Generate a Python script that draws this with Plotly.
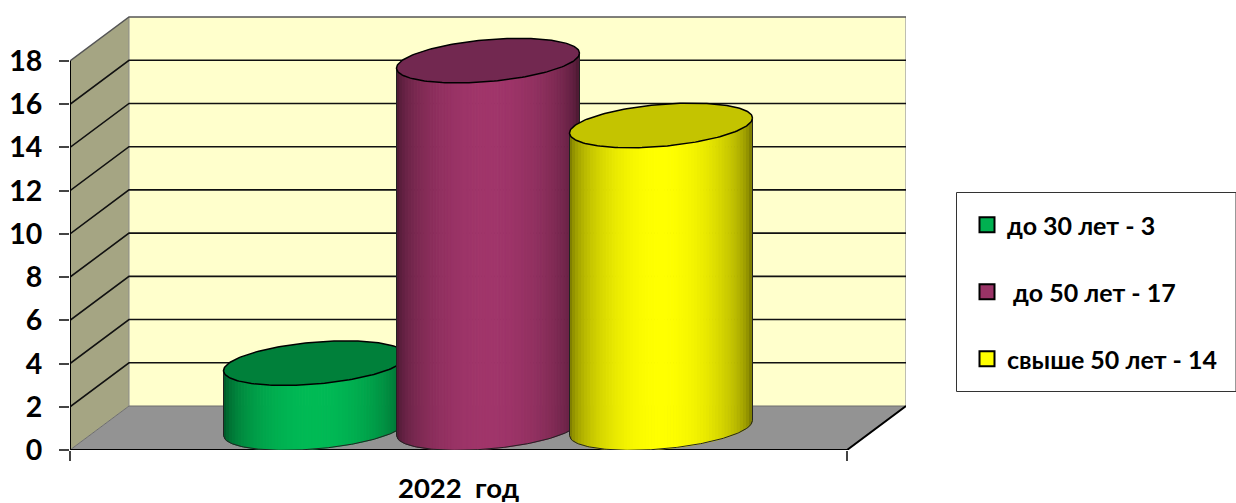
import numpy as np
import plotly.graph_objects as go

# ---- data ----
categories = ["2022\u00a0\u00a0год"]
series_names = ["до 30 лет - 3", "\u00a0до 50 лет - 17", "свыше 50 лет - 14"]
series_values = [3, 17, 14]
y_ticks = [0, 2, 4, 6, 8, 10, 12, 14, 16, 18]
series_colors = [(0, 186, 85), (160, 53, 106), (255, 255, 0)]
top_colors = ["#00803A", "#722850", "#C4C400"]
legend_colors = ["#00B050", "#993366", "#FFFF00"]

# ---- pseudo-3D geometry (axis units) ----
PX_X = 777.0     # pixels per x unit
PX_Y = 21.61     # pixels per y unit
DX = 59.0 / PX_X  # depth shift in x
DY = 44.0 / PX_Y  # depth shift in y
Y_TOP = max(y_ticks)
BAR_W = 183.0 / PX_X
BAR_STEP = 173.0 / PX_X
K = 7.5 / PX_Y    # tilt of ellipse
B = 21.0 / PX_Y   # half height of ellipse

fig = go.Figure()


def poly(x, y, fill=None, line="rgba(0,0,0,0)", width=0):
    fig.add_trace(go.Scatter(
        x=x, y=y, mode="lines", fill="toself" if fill else "none",
        fillcolor=fill, line=dict(color=line, width=width),
        hoverinfo="skip", showlegend=False, cliponaxis=False))


# walls and floor
poly([DX, 1 + DX, 1 + DX, DX, DX], [DY, DY, Y_TOP + DY, Y_TOP + DY, DY], "#FFFFCC")
poly([0, DX, DX, 0, 0], [0, DY, Y_TOP + DY, Y_TOP, 0], "#A5A583")
poly([0, 1, 1 + DX, DX, 0], [0, 0, DY, DY, 0], "#939393")
poly([1 + DX, 1 + DX], [DY, Y_TOP + DY], None, "#A8A8A8", 1.5)
poly([DX, DX], [DY, Y_TOP + DY], None, "#8A8A8A", 1)
poly([0, DX, 1 + DX], [0, DY, DY], None, "#6E6E6E", 1)

# grid: wall-side diagonal plus back-wall line for each tick
for t in y_ticks[1:-1]:
    poly([0, DX, 1 + DX], [t, t + DY, t + DY], None, "#111111", 1.6)
poly([0, DX, 1 + DX], [Y_TOP, Y_TOP + DY, Y_TOP + DY], None, "#555555", 1.5)

# front edges
poly([0, 0], [0, Y_TOP], None, "#000000", 2)
poly([0, 1, 1 + DX], [0, 0, DY], None, "#000000", 2)


def shade(f):
    return 0.38 + 0.62 * np.sin(np.pi * f) ** 0.45


# cylinders
base = DY / 2
n_strips = 60
n_bars = len(series_values)
for i, (v, col, top) in enumerate(zip(series_values, series_colors, top_colors)):
    cx = 0.5 + DX / 2 + (i - (n_bars - 1) / 2) * BAR_STEP
    a = BAR_W / 2
    us = np.linspace(-1, 1, n_strips + 1)
    arc = lambda u: K * u - B * np.sqrt(np.clip(1 - u ** 2, 0, 1))
    for j in range(n_strips):
        uu = np.linspace(us[j], us[j + 1], 4)
        xs = cx + a * uu
        lo = base + arc(uu)
        hi = base + v + arc(uu)
        s = shade((j + 0.5) / n_strips)
        c = "rgb(%d,%d,%d)" % tuple(int(round(ch * s)) for ch in col)
        poly(list(xs) + list(xs[::-1]) + [xs[0]],
             list(lo) + list(hi[::-1]) + [lo[0]], c, c, 1)
    # silhouette
    uu = np.linspace(-1, 1, 121)
    poly(list(cx + a * uu), list(base + arc(uu)), None, "#222222", 1)
    poly([cx - a, cx - a], [base - K, base - K + v], None, "#222222", 1)
    poly([cx + a, cx + a], [base + K, base + K + v], None, "#222222", 1)
    # top ellipse
    t = np.linspace(0, 2 * np.pi, 181)
    ex = cx + a * np.cos(t)
    ey = base + v + K * np.cos(t) + B * np.sin(t)
    poly(list(ex), list(ey), top, "#000000", 1.5)

# legend entries
for name, c in zip(series_names, legend_colors):
    fig.add_trace(go.Scatter(
        x=[None], y=[None], mode="markers", name=name, legendgroup=name,
        marker=dict(symbol="square", size=15, color=c,
                    line=dict(color="#000000", width=2))))

L, R, T, Bm = 70, 330, 16, 53
W, H = 1236, 503
plot_w = W - L - R
plot_h = H - T - Bm
FONT = "Lato, Carlito, Calibri, sans-serif"

fig.update_layout(
    width=W, height=H,
    margin=dict(l=L, r=R, t=T, b=Bm, pad=0, autoexpand=False),
    paper_bgcolor="#FFFFFF", plot_bgcolor="rgba(0,0,0,0)",
    font=dict(family=FONT, color="#000000"),
    showlegend=True,
    legend=dict(
        x=(967 - L) / plot_w, xanchor="left",
        y=(H - Bm - 202) / plot_h, yanchor="top",
        bgcolor="rgba(0,0,0,0)", borderwidth=0,
        tracegroupgap=31.5, itemclick=False, itemdoubleclick=False,
        font=dict(family=FONT, size=25, color="#000000", weight="bold")),
    xaxis=dict(
        range=[0, 1 + DX], showgrid=False, zeroline=False, showline=False,
        tickvals=[0.5], ticktext=categories, ticks="", ticklabelstandoff=19,
        tickfont=dict(family=FONT, size=27.5, weight="bold"),
        minor=dict(tickvals=[0, 1], ticks="outside", ticklen=10, tickwidth=1.5,
                   tickcolor="#444444", showgrid=False),
        fixedrange=True),
    yaxis=dict(
        range=[0, (H - Bm - T) / PX_Y], showgrid=False, zeroline=False, showline=False,
        tickvals=y_ticks, ticktext=[str(t) for t in y_ticks],
        ticks="outside", ticklen=10, tickwidth=1.5, tickcolor="#444444",
        ticklabelstandoff=11,
        tickfont=dict(family=FONT, size=28.5, weight="bold"),
        fixedrange=True),
    shapes=[dict(type="rect", xref="paper", yref="paper", layer="above",
                 x0=(956.5 - L) / plot_w, x1=(1236 - L) / plot_w,
                 y0=(H - Bm - 391.5) / plot_h, y1=(H - Bm - 192.5) / plot_h,
                 line=dict(color="#333333", width=1), fillcolor="rgba(0,0,0,0)")],
)

fig.write_html("out.html", config={"displayModeBar": False},
               post_script="document.body.style.margin='0';")
